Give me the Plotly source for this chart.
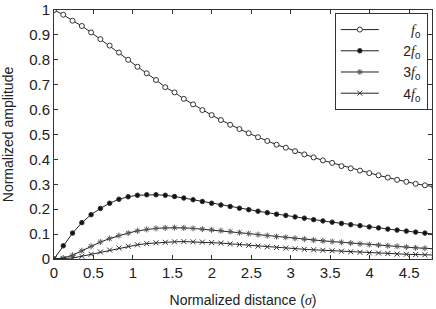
import plotly.graph_objects as go

# Normalized distance (sigma) sample points
x = [0.0, 0.1175, 0.235, 0.3525, 0.47, 0.5875, 0.705, 0.8225, 0.94, 1.0575,
     1.175, 1.2925, 1.41, 1.5275, 1.645, 1.7625, 1.88, 1.9975, 2.115, 2.2325,
     2.35, 2.4675, 2.585, 2.7025, 2.82, 2.9375, 3.055, 3.1725, 3.29, 3.4075,
     3.525, 3.6425, 3.76, 3.8775, 3.995, 4.1125, 4.23, 4.3475, 4.465, 4.5825,
     4.7, 4.8175]

f1 = [1.0, 0.981, 0.957, 0.936, 0.910, 0.883, 0.857, 0.829, 0.800, 0.772,
      0.746, 0.719, 0.690, 0.669, 0.643, 0.621, 0.598, 0.578, 0.558, 0.539,
      0.522, 0.505, 0.489, 0.474, 0.459, 0.447, 0.433, 0.420, 0.408, 0.396,
      0.386, 0.373, 0.364, 0.355, 0.345, 0.336, 0.327, 0.318, 0.310, 0.302,
      0.296, 0.290]

f2 = [0.0, 0.053, 0.104, 0.146, 0.178, 0.203, 0.224, 0.240, 0.250, 0.256,
      0.258, 0.258, 0.256, 0.251, 0.245, 0.238, 0.231, 0.224, 0.217, 0.211,
      0.204, 0.198, 0.192, 0.186, 0.180, 0.175, 0.169, 0.164, 0.158, 0.153,
      0.148, 0.143, 0.138, 0.134, 0.129, 0.125, 0.120, 0.116, 0.112, 0.108,
      0.104, 0.100]

f3 = [0.0, 0.004, 0.015, 0.033, 0.051, 0.068, 0.082, 0.094, 0.104, 0.113,
      0.119, 0.123, 0.125, 0.126, 0.125, 0.123, 0.120, 0.117, 0.114, 0.110,
      0.106, 0.102, 0.098, 0.094, 0.090, 0.087, 0.083, 0.080, 0.076, 0.073,
      0.070, 0.067, 0.064, 0.061, 0.058, 0.056, 0.053, 0.051, 0.048, 0.045,
      0.043, 0.041]

f4 = [0.0, 0.001, 0.004, 0.011, 0.019, 0.028, 0.036, 0.044, 0.051, 0.057,
      0.062, 0.065, 0.067, 0.069, 0.070, 0.069, 0.068, 0.066, 0.064, 0.061,
      0.058, 0.055, 0.052, 0.049, 0.046, 0.044, 0.041, 0.039, 0.037, 0.035,
      0.033, 0.031, 0.029, 0.027, 0.025, 0.024, 0.022, 0.020, 0.019, 0.018,
      0.017, 0.016]

F = "<span style='font-family:Liberation Serif'><i>f</i></span><sub>0</sub>"
PAD = "&nbsp;" * 5
names = [PAD + "&nbsp;&nbsp;" + F, PAD + "2" + F, PAD + "3" + F, PAD + "4" + F]

x_ticks = [0, 0.5, 1, 1.5, 2, 2.5, 3, 3.5, 4, 4.5]
x_labels = ["0", "0.5", "1", "1.5", "2", "2.5", "3", "3.5", "4", "4.5"]
y_ticks = [0, 0.1, 0.2, 0.3, 0.4, 0.5, 0.6, 0.7, 0.8, 0.9, 1]
y_labels = ["0", "0.1", "0.2", "0.3", "0.4", "0.5", "0.6", "0.7", "0.8", "0.9", "1"]

series = [f1, f2, f3, f4]
symbols = ["circle", "circle", "asterisk-open", "x-thin-open"]
mcolors = ["white", "#111111", "#555555", "#333333"]
msizes = [5, 4.5, 5, 5]

fig = go.Figure()
for y, nm, sym, mc, ms in zip(series, names, symbols, mcolors, msizes):
    fig.add_trace(go.Scatter(
        x=x, y=y, name=nm, mode="lines+markers",
        line=dict(color="#222222", width=1),
        marker=dict(symbol=sym, size=ms, color=mc,
                    line=dict(color="#333333", width=1)),
    ))

fig.update_layout(
    width=436, height=309,
    margin=dict(l=54, r=4, t=10, b=50),
    paper_bgcolor="white", plot_bgcolor="white",
    font=dict(family="Liberation Sans, Arial, sans-serif", size=14, color="#222222"),
    showlegend=True,
    legend=dict(x=0.989, y=0.988, xanchor="right", yanchor="top",
                bordercolor="#333333", borderwidth=1, bgcolor="white",
                font=dict(size=14), tracegroupgap=0, itemwidth=38),
)
fig.update_xaxes(
    range=[0, 4.79], tickvals=x_ticks, ticktext=x_labels, automargin=False,
    tickfont=dict(size=15),
    ticks="inside", ticklen=4, tickcolor="#333333", showline=True, linecolor="#333333",
    linewidth=1, mirror="ticks", showgrid=False, zeroline=False,
    title=dict(text="Normalized distance (<span style='font-family:Liberation Serif'><i>σ</i></span>)",
               font=dict(size=14)),
)
fig.update_yaxes(
    range=[0, 1], tickvals=y_ticks, ticktext=y_labels, automargin=False,
    tickfont=dict(size=15),
    ticks="inside", ticklen=4, tickcolor="#333333", showline=True, linecolor="#333333",
    linewidth=1, mirror="ticks", showgrid=False, zeroline=False,
    title=dict(text="Normalized amplitude", font=dict(size=14)),
)

fig.write_html("out.html", config={"displayModeBar": False},
               post_script="document.body.style.margin='0';document.body.style.padding='0';")
